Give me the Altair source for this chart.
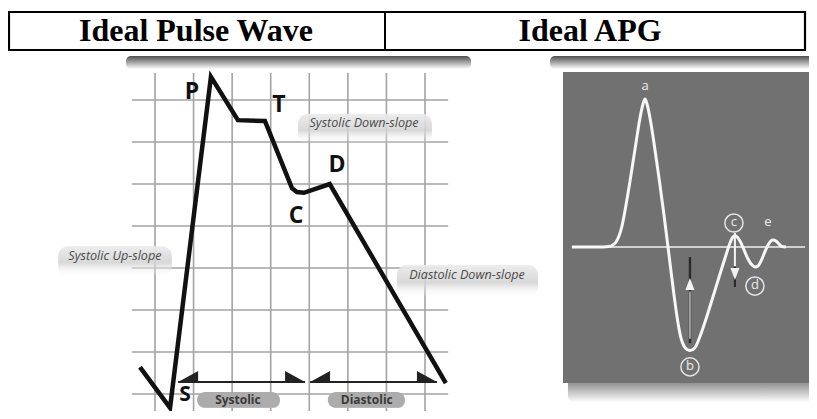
import altair as alt
import pandas as pd

# ---------------- header (page pixel units) ----------------
HEADER_TITLES = ["Ideal Pulse Wave", "Ideal APG"]
HEADER_TITLE_X = [196, 590]
HEADER_TITLE_Y = [41, 41]
HEADER_BOX_X = [9, 805]
HEADER_BOX_Y = [12, 50]
HEADER_DIVIDER_X = [385]
HEADER_SHADOW_X0 = [126, 550]
HEADER_SHADOW_X1 = [471, 830]
HEADER_SHADOW_Y = [56, 69]

# ---------------- ideal pulse wave (grid units) ----------------
GRID_LINES = [0, 1, 2, 3, 4, 5, 6, 7]
GRID_VSPAN = [-0.7, 7.64]
GRID_HSPAN = [-0.6, 7.6]
PULSE_GX = [-0.39, 0.39, 1.45, 2.15, 2.85, 3.55, 3.68, 3.86, 4.53, 7.54]
PULSE_GY = [0.64, -0.33, 7.55, 6.52, 6.50, 4.90, 4.81, 4.79, 5.00, 0.26]
POINT_LABELS = ["P", "T", "D", "C", "S"]
POINT_GX = [0.96, 3.21, 4.72, 3.66, 0.78]
POINT_GY = [7.19, 6.88, 5.45, 4.24, -0.03]
POINT_SIZE = [23, 23, 23, 23, 21]
SLOPE_LABELS = ["Systolic Down-slope", "Systolic Up-slope", "Diastolic Down-slope"]
SLOPE_GX = [5.42, -1.04, 8.09]
SLOPE_GY = [6.45, 3.29, 2.83]
SLOPE_BOX_GX0 = [3.71, -2.51, 6.27]
SLOPE_BOX_GX1 = [7.18, 0.44, 9.93]
SLOPE_BOX_GY0 = [6.67, 3.52, 3.07]
SLOPE_BOX_GY1 = [5.95, 2.80, 2.30]
PHASES = ["Systolic", "Diastolic"]
PHASE_GX0 = [0.60, 4.02]
PHASE_GX1 = [3.89, 7.31]
PHASE_GY = [0.286, 0.286]
PILL_GX0 = [1.09, 4.48]
PILL_GX1 = [3.24, 6.48]
PILL_GY0 = [0.05, 0.05]
PILL_GY1 = [-0.33, -0.33]
PILL_TEXT_GX = [2.15, 5.49]
PILL_TEXT_GY = [-0.14, -0.14]

# ---------------- ideal APG (time units 0-100, amplitude a = 1) ----------------
APG_BOX_T = [0, 100]
APG_BOX_V = [1.182, -0.919]
APG_SHADOW_T = [2.0, 102.0]
APG_SHADOW_V = [-0.87, -1.05]
APG_BASE_T = [3.6, 98.0]
APG_T = [3.64, 16.19, 18.62, 20.24, 21.46, 22.67, 23.89, 25.51, 27.53, 29.55, 31.17, 32.39,
         33.20, 34.01, 35.22, 36.84, 38.87, 40.89, 42.91, 44.94, 46.56, 47.77, 48.99, 50.20,
         51.42, 52.63, 53.85, 55.06, 57.09, 60.32, 63.56, 65.99, 67.61, 68.83, 69.64, 70.45,
         71.66, 73.28, 74.90, 76.52, 77.73, 78.95, 80.16, 81.38, 82.59, 83.81, 85.02, 86.23,
         87.45, 88.66, 90.28]
APG_V = [0.0, 0.0, 0.003, 0.014, 0.034, 0.074, 0.142, 0.284, 0.486, 0.703, 0.872, 0.966,
         1.0, 0.966, 0.872, 0.703, 0.466, 0.216, -0.054, -0.324, -0.514, -0.615, -0.669, -0.693,
         -0.699, -0.693, -0.669, -0.622, -0.527, -0.358, -0.182, -0.054, 0.027, 0.068, 0.074, 0.068,
         0.041, -0.020, -0.081, -0.122, -0.135, -0.128, -0.095, -0.047, 0.0, 0.034, 0.047, 0.041,
         0.020, 0.003, 0.0]
APG_CIRCLED = ["b", "c", "d"]
APG_CIRCLED_T = [51.4, 69.2, 77.7]
APG_CIRCLED_V = [-0.81, 0.162, -0.264]
APG_PLAIN = ["a", "e"]
APG_PLAIN_T = [33.2, 83.0]
APG_PLAIN_V = [1.08, 0.162]
UP_ARROW_T = [51.4]
UP_DARK_V = [-0.068, -0.649]
UP_WHITE_V = [-0.30, -0.62]
UP_TIP_V = [-0.209]
DOWN_ARROW_T = [69.6]
DOWN_WHITE_V = [0.095, -0.13]
DOWN_DARK_V = [-0.13, -0.27]
DOWN_TIP_V = [-0.223]


def sc(domain, rng):
    return alt.Scale(domain=domain, range=rng, nice=False, zero=False)


PX, PY = sc([0, 817], [-8, 809]), sc([0, 419], [-8, 411])
LX, LY = sc([0, 7], [147, 417]), sc([0, 7], [386, 92])
RX, RY = sc([0, 100], [555, 802]), sc([0, 1], [239, 91])


def X(f, s):
    return alt.X(f, type="quantitative", scale=s, axis=None)


def Y(f, s):
    return alt.Y(f, type="quantitative", scale=s, axis=None)


def vgrad(c0, c1):
    return alt.Gradient(gradient="linear", x1=0, x2=0, y1=0, y2=1,
                        stops=[alt.GradientStop(offset=0, color=c0),
                               alt.GradientStop(offset=1, color=c1)])


layers = []

# ---- header ----
hs = pd.DataFrame({"x0": HEADER_SHADOW_X0, "x1": HEADER_SHADOW_X1,
                   "y0": HEADER_SHADOW_Y[0], "y1": HEADER_SHADOW_Y[1]})
layers.append(alt.Chart(hs).mark_rect(fill=vgrad("#4e4e4e", "#ffffff"), cornerRadius=5).encode(
    x=X("x0", PX), x2="x1", y=Y("y0", PY), y2="y1"))
hb = pd.DataFrame({"x0": [HEADER_BOX_X[0]], "x1": [HEADER_BOX_X[1]],
                   "y0": [HEADER_BOX_Y[0]], "y1": [HEADER_BOX_Y[1]]})
layers.append(alt.Chart(hb).mark_rect(fill="white", stroke="black", strokeWidth=2.2).encode(
    x=X("x0", PX), x2="x1", y=Y("y0", PY), y2="y1"))
hd = pd.DataFrame({"x": HEADER_DIVIDER_X, "y0": [HEADER_BOX_Y[0]], "y1": [HEADER_BOX_Y[1]]})
layers.append(alt.Chart(hd).mark_rule(color="black", strokeWidth=2).encode(
    x=X("x", PX), y=Y("y0", PY), y2="y1"))
ht = pd.DataFrame({"t": HEADER_TITLES, "x": HEADER_TITLE_X, "y": HEADER_TITLE_Y})
layers.append(alt.Chart(ht).mark_text(font="Liberation Serif", fontWeight="bold", fontSize=32,
                                      baseline="alphabetic", align="center", color="black").encode(
    x=X("x", PX), y=Y("y", PY), text="t"))

# ---- pulse wave panel ----
gv = pd.DataFrame({"g": GRID_LINES, "a": GRID_VSPAN[0], "b": GRID_VSPAN[1]})
layers.append(alt.Chart(gv).mark_rule(color="#a3a3a3", strokeWidth=1.6).encode(
    x=X("g", LX), y=Y("a", LY), y2="b"))
gh = pd.DataFrame({"g": GRID_LINES, "a": GRID_HSPAN[0], "b": GRID_HSPAN[1]})
layers.append(alt.Chart(gh).mark_rule(color="#a3a3a3", strokeWidth=1.6).encode(
    y=Y("g", LY), x=X("a", LX), x2="b"))

sb = pd.DataFrame({"x0": SLOPE_BOX_GX0, "x1": SLOPE_BOX_GX1, "y0": SLOPE_BOX_GY0, "y1": SLOPE_BOX_GY1})
layers.append(alt.Chart(sb).mark_rect(
    cornerRadius=10,
    fill=alt.Gradient(gradient="linear", x1=0, x2=0, y1=0, y2=1,
                      stops=[alt.GradientStop(offset=0, color="rgba(236,236,236,0.95)"),
                             alt.GradientStop(offset=0.55, color="rgba(210,210,210,0.85)"),
                             alt.GradientStop(offset=1, color="rgba(255,255,255,0)")])).encode(
    x=X("x0", LX), x2="x1", y=Y("y0", LY), y2="y1"))

pw = pd.DataFrame({"gx": PULSE_GX, "gy": PULSE_GY, "i": range(len(PULSE_GX))})
layers.append(alt.Chart(pw).mark_line(color="#111111", strokeWidth=4.5, strokeJoin="miter",
                                      strokeCap="butt").encode(
    x=X("gx", LX), y=Y("gy", LY), order="i:Q"))

pl = pd.DataFrame({"t": POINT_LABELS, "gx": POINT_GX, "gy": POINT_GY, "s": POINT_SIZE})
layers.append(alt.Chart(pl).mark_text(font="Open Sans", fontWeight="bold",
                                      color="#111111").encode(
    x=X("gx", LX), y=Y("gy", LY), text="t", size=alt.Size("s:Q", scale=None, legend=None)))

sl = pd.DataFrame({"t": SLOPE_LABELS, "gx": SLOPE_GX, "gy": SLOPE_GY})
layers.append(alt.Chart(sl).mark_text(font="Open Sans", fontStyle="italic", fontSize=12.6,
                                      color="#4a4a4a").encode(
    x=X("gx", LX), y=Y("gy", LY), text="t"))

ph = pd.DataFrame({"p": PHASES, "x0": PHASE_GX0, "x1": PHASE_GX1, "y": PHASE_GY})
layers.append(alt.Chart(ph).mark_rule(color="#222222", strokeWidth=2.2).encode(
    x=X("x0", LX), x2="x1", y=Y("y", LY)))
layers.append(alt.Chart(ph).mark_point(shape="M 0 0 L 2 -1.1 L 2 0 Z", size=400, filled=True,
                                       color="#222222", opacity=1).encode(
    x=X("x0", LX), y=Y("y", LY)))
layers.append(alt.Chart(ph).mark_point(shape="M 0 0 L -2 -1.1 L -2 0 Z", size=400, filled=True,
                                       color="#222222", opacity=1).encode(
    x=X("x1", LX), y=Y("y", LY)))

pp = pd.DataFrame({"p": PHASES, "x0": PILL_GX0, "x1": PILL_GX1, "y0": PILL_GY0, "y1": PILL_GY1,
                   "tx": PILL_TEXT_GX, "ty": PILL_TEXT_GY})
layers.append(alt.Chart(pp).mark_rect(cornerRadius=8, color="#dadada", xOffset=3, yOffset=4).encode(
    x=X("x0", LX), x2="x1", y=Y("y0", LY), y2="y1"))
layers.append(alt.Chart(pp).mark_rect(cornerRadius=8, color="#acacac").encode(
    x=X("x0", LX), x2="x1", y=Y("y0", LY), y2="y1"))
layers.append(alt.Chart(pp).mark_text(font="Open Sans", fontWeight="bold", fontSize=12,
                                      color="#3a3a3a").encode(
    x=X("tx", LX), y=Y("ty", LY), text="p"))

# ---- APG panel ----
ash = pd.DataFrame({"x0": [APG_SHADOW_T[0]], "x1": [APG_SHADOW_T[1]],
                    "y0": [APG_SHADOW_V[0]], "y1": [APG_SHADOW_V[1]]})
layers.append(alt.Chart(ash).mark_rect(fill=vgrad("#6a6a6a", "#ffffff"), cornerRadius=6).encode(
    x=X("x0", RX), x2="x1", y=Y("y0", RY), y2="y1"))
abx = pd.DataFrame({"x0": [APG_BOX_T[0]], "x1": [APG_BOX_T[1]],
                    "y0": [APG_BOX_V[0]], "y1": [APG_BOX_V[1]]})
layers.append(alt.Chart(abx).mark_rect(color="#717171").encode(
    x=X("x0", RX), x2="x1", y=Y("y0", RY), y2="y1"))
abl = pd.DataFrame({"x0": [APG_BASE_T[0]], "x1": [APG_BASE_T[1]], "y": [0.0]})
layers.append(alt.Chart(abl).mark_rule(color="#f2f2f2", strokeWidth=1.6).encode(
    x=X("x0", RX), x2="x1", y=Y("y", RY)))
aw = pd.DataFrame({"t": APG_T, "v": APG_V})
layers.append(alt.Chart(aw).mark_line(color="#f7f7f7", strokeWidth=3, interpolate="monotone").encode(
    x=X("t", RX), y=Y("v", RY)))

ua = pd.DataFrame({"t": UP_ARROW_T, "d0": [UP_DARK_V[0]], "d1": [UP_DARK_V[1]],
                   "w0": [UP_WHITE_V[0]], "w1": [UP_WHITE_V[1]], "tip": UP_TIP_V})
layers.append(alt.Chart(ua).mark_rule(color="#2a2a2a", strokeWidth=2.4).encode(
    x=X("t", RX), y=Y("d0", RY), y2="d1"))
layers.append(alt.Chart(ua).mark_rule(color="#e8e8e8", strokeWidth=1.2).encode(
    x=X("t", RX), y=Y("w0", RY), y2="w1"))
layers.append(alt.Chart(ua).mark_point(shape="M 0 0 L -0.6 1.6 L 0.6 1.6 Z", size=225, filled=True,
                                       color="#f5f5f5", opacity=1).encode(
    x=X("t", RX), y=Y("tip", RY)))

da = pd.DataFrame({"t": DOWN_ARROW_T, "w0": [DOWN_WHITE_V[0]], "w1": [DOWN_WHITE_V[1]],
                   "d0": [DOWN_DARK_V[0]], "d1": [DOWN_DARK_V[1]], "tip": DOWN_TIP_V})
layers.append(alt.Chart(da).mark_rule(color="#2a2a2a", strokeWidth=2.2).encode(
    x=X("t", RX), y=Y("d0", RY), y2="d1"))
layers.append(alt.Chart(da).mark_rule(color="#f5f5f5", strokeWidth=2).encode(
    x=X("t", RX), y=Y("w0", RY), y2="w1"))
layers.append(alt.Chart(da).mark_point(shape="M 0 0 L -0.6 -1.6 L 0.6 -1.6 Z", size=225, filled=True,
                                       color="#f0f0f0", opacity=1).encode(
    x=X("t", RX), y=Y("tip", RY)))

ac = pd.DataFrame({"t": APG_CIRCLED, "x": APG_CIRCLED_T, "y": APG_CIRCLED_V})
layers.append(alt.Chart(ac).mark_point(shape="circle", size=330, filled=False, color="#e6e6e6",
                                       strokeWidth=1.5, opacity=1).encode(
    x=X("x", RX), y=Y("y", RY)))
layers.append(alt.Chart(ac).mark_text(font="Open Sans", fontSize=13, color="#ececec", dy=-1).encode(
    x=X("x", RX), y=Y("y", RY), text="t"))
ap = pd.DataFrame({"t": APG_PLAIN, "x": APG_PLAIN_T, "y": APG_PLAIN_V})
layers.append(alt.Chart(ap).mark_text(font="Open Sans", fontSize=13, color="#ececec", dy=-1).encode(
    x=X("x", RX), y=Y("y", RY), text="t"))

chart = alt.layer(*layers).resolve_scale(x="independent", y="independent").properties(
    width=801, height=403, padding=0, autosize="none", background="white"
).configure_view(stroke=None)

chart.save("out.html", embed_options={"renderer": "svg", "actions": False})
